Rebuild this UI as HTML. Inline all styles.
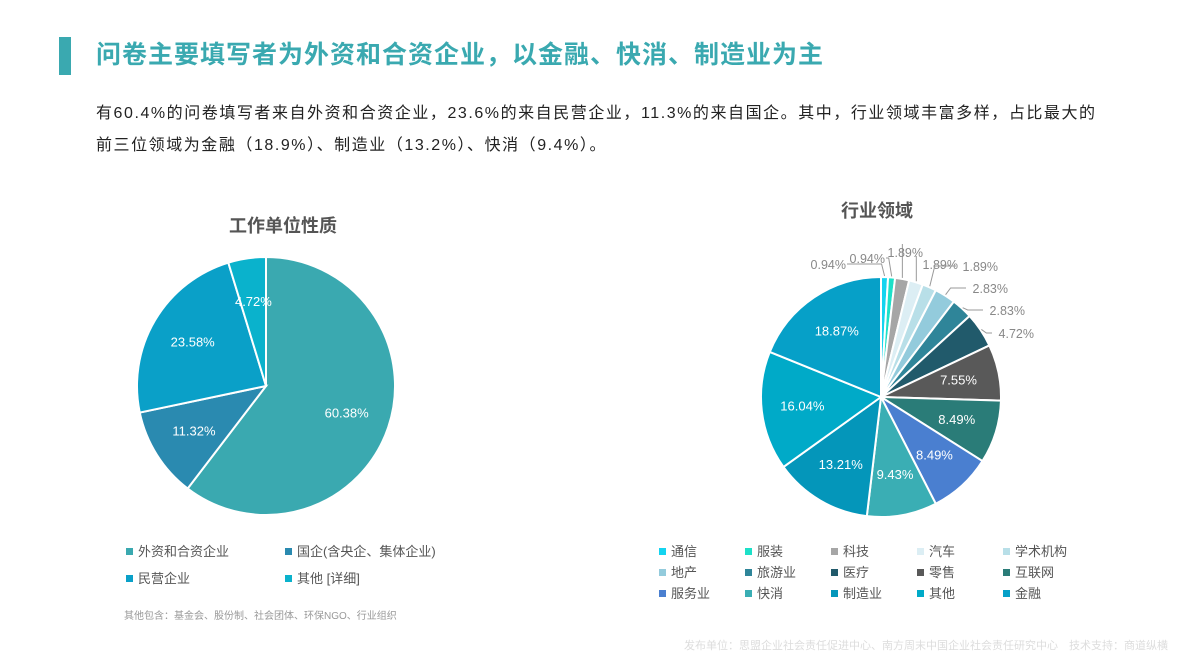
<!DOCTYPE html>
<html><head><meta charset="utf-8">
<style>
body{margin:0;width:1190px;height:669px;background:#fff;font-family:"Liberation Sans","Noto Sans CJK SC",sans-serif;overflow:hidden;position:relative}
.abs{position:absolute;white-space:nowrap}
</style></head><body>
<div class="abs" style="left:59px;top:37px;width:12px;height:38px;background:#3aa9b0"></div>
<div class="abs" style="left:96px;top:38px;font-size:25px;font-weight:bold;color:#3aa9b0;line-height:34px;letter-spacing:1px">问卷主要填写者为外资和合资企业，以金融、快消、制造业为主</div>
<div class="abs" style="left:96px;top:98px;font-size:16px;color:#222;line-height:32px;letter-spacing:1.55px">有60.4%的问卷填写者来自外资和合资企业，23.6%的来自民营企业，11.3%的来自国企。其中，行业领域丰富多样，占比最大的<br>前三位领域为金融（18.9%）、制造业（13.2%）、快消（9.4%）。</div>
<svg class="abs" style="left:0;top:0" width="1190" height="669" id="svg">
<text x="283" y="232" text-anchor="middle" font-size="18" font-weight="bold" fill="#555">工作单位性质</text>
<text x="877" y="217" text-anchor="middle" font-size="18" font-weight="bold" fill="#555">行业领域</text>
<g id="p1"></g><g id="p2"></g><g id="l1"></g><g id="l2"></g>
<text x="124" y="619" font-size="10" fill="#999">其他包含：基金会、股份制、社会团体、环保NGO、行业组织</text>
<text x="1168" y="649" text-anchor="end" font-size="11" fill="#ddd">发布单位：思盟企业社会责任促进中心、南方周末中国企业社会责任研究中心　技术支持：商道纵横</text>
</svg>
<script>
const cat1=["外资和合资企业","国企(含央企、集体企业)","民营企业","其他 [详细]"];
const val1=[60.38,11.32,23.58,4.72];
const col1=["#3aa9b0","#2a8ab0","#0aa0c8","#0ab2cc"];
const cat2=["通信","服装","科技","汽车","学术机构","地产","旅游业","医疗","零售","互联网","服务业","快消","制造业","其他","金融"];
const val2=[0.94,0.94,1.89,1.89,1.89,2.83,2.83,4.72,7.55,8.49,8.49,9.43,13.21,16.04,18.87];
const col2=["#14d4f0","#1de0c8","#a6a6a6","#dceef4","#b8dfe8","#93cbdc","#2f8599","#215a6b","#595959","#2a7c78","#4a7fd0","#3aaeb4","#0496ba","#00aac8","#06a0c8"];
const NS="http://www.w3.org/2000/svg";
// outside label anchor spots (layout only, by slice order): right edge x, baseline y
const outPos=[[846,268],[885,262],[923,256],[958,268],[998,270],[1008,292],[1025,314],[1034,337]];
function mk(t,a,p){const e=document.createElementNS(NS,t);for(const k in a)e.setAttribute(k,a[k]);p.appendChild(e);return e;}
function pt(cx,cy,r,a){return [cx+r*Math.sin(a),cy-r*Math.cos(a)];}
function pie(g,vals,cols,cx,cy,r,minIn,pre){
  const tot=vals.reduce((a,b)=>a+b,0);let a0=0;
  vals.forEach((v,i)=>{
    const a1=a0+v/tot*2*Math.PI;
    const [x0,y0]=pt(cx,cy,r,a0),[x1,y1]=pt(cx,cy,r,a1);
    const p=mk('path',{d:`M${cx},${cy}L${x0},${y0}A${r},${r} 0 ${a1-a0>Math.PI?1:0} 1 ${x1},${y1}Z`,fill:cols[i],stroke:'#fff','stroke-width':2},g);
    
    
    const m=(a0+a1)/2;
    if(v>=minIn||!outPos[i]){
      const [tx,ty]=pt(cx,cy,r*0.66,m);
      const t=mk('text',{x:tx,y:ty+4,'text-anchor':'middle','font-size':13,fill:'#fff'},g);
      t.textContent=v.toFixed(2)+'%';
      
      
    }else{
      const [ax,ay]=pt(cx,cy,r+1,m);
      const [ex,ey]=outPos[i];
      const ly=ey-4;
      const sx=ex-40;
      let pts;
      if(ex+2<ax+6){pts=`${ex+1},${ly} ${ax-3},${ly} ${ax},${ay}`;}
      else if(sx-2<ax+4){pts=`${ax},${ay} ${ax},${ey-12}`;}
      else{pts=`${ax},${ay} ${ax+5},${ly} ${sx-2},${ly}`;}
      const l=mk('polyline',{points:pts,fill:'none',stroke:'#999','stroke-width':1},g);
      
      
      const t=mk('text',{x:ex,y:ey+1,'text-anchor':'end','font-size':12.5,fill:'#888'},g);
      t.textContent=v.toFixed(2)+'%';
      
      
    }
    a0=a1;
  });
}
pie(document.getElementById('p1'),val1,col1,266,386,129,4,'org');
pie(document.getElementById('p2'),val2,col2,881,397,120,7,'ind');
function legend(g,cats,cols,x0,y0,cw,rh,perRow,pre){
  cats.forEach((c,i)=>{
    const x=x0+(i%perRow)*cw,y=y0+Math.floor(i/perRow)*rh;
    const r=mk('rect',{x:x,y:y-8,width:7,height:7,fill:cols[i]},g);
    
    
    const t=mk('text',{x:x+12,y:y,'font-size':13,fill:'#555'},g);
    t.textContent=c;
    
    
  });
}
legend(document.getElementById('l1'),cat1,col1,126,556,159,27,2,'org');
legend(document.getElementById('l2'),cat2,col2,659,556,86,21,5,'ind');
</script>
</body></html>
